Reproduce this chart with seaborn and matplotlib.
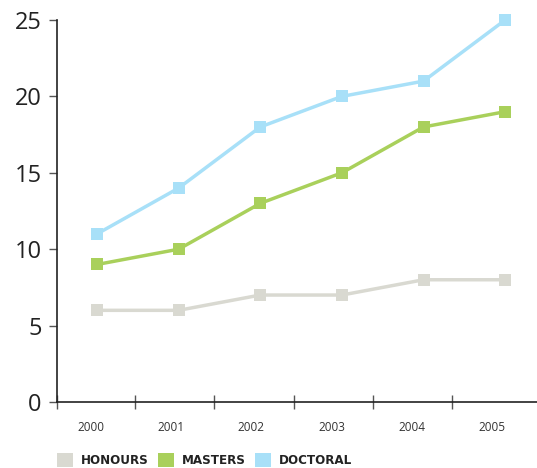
import matplotlib
matplotlib.use("Agg")
import matplotlib.pyplot as plt
from matplotlib.patches import Patch
from matplotlib.ticker import FixedLocator, NullFormatter
import seaborn as sns
import pandas as pd

years = ["2000", "2001", "2002", "2003", "2004", "2005"]
honours = [6, 6, 7, 7, 8, 8]
masters = [9, 10, 13, 15, 18, 19]
doctoral = [11, 14, 18, 20, 21, 25]
series_names = ["HONOURS", "MASTERS", "DOCTORAL"]
colors = ["#d9d9d1", "#a9d05b", "#a8e0f8"]

rows = []
for name, vals in zip(series_names, [honours, masters, doctoral]):
    for i, v in enumerate(vals):
        rows.append({"pos": i, "value": v, "series": name})
df = pd.DataFrame(rows)

sns.set_style("white")
plt.rcParams["font.family"] = ["Open Sans", "DejaVu Sans"]

fig = plt.figure(figsize=(5.37, 4.68), dpi=100)
ax = fig.add_axes([57 / 537, 66 / 468, 1 - 57 / 537, (402 - 20) / 468])

sns.lineplot(data=df, x="pos", y="value", hue="series", hue_order=series_names,
             palette=colors, marker="s", markersize=9, markeredgewidth=0,
             linewidth=2.5, dashes=False, legend=False, ax=ax)
for line in ax.lines:
    line.set_clip_on(False)

ax.set_xlim(-0.49, 5.39)
ax.set_ylim(0, 25)
ax.set_xlabel("")
ax.set_ylabel("")

for side in ["top", "right"]:
    ax.spines[side].set_visible(False)
for side in ["left", "bottom"]:
    ax.spines[side].set_color("#222222")
    ax.spines[side].set_linewidth(1.2)

ax.set_yticks([0, 5, 10, 15, 20, 25])
ax.tick_params(axis="y", which="major", direction="out", length=6, width=1,
               color="#555555", labelsize=17, labelcolor="#222222", pad=5, left=True)

# year labels sit centred in their bands, boundary ticks between them
ax.set_xticks([i * 0.984 - 0.08 for i in range(len(years))])
ax.set_xticklabels(years)
ax.tick_params(axis="x", which="major", length=0, labelsize=8.5, labelcolor="#333333", pad=14)
ax.xaxis.set_minor_locator(FixedLocator([-0.49, 0.466, 1.434, 2.414, 3.382, 4.35]))
ax.xaxis.set_minor_formatter(NullFormatter())
ax.tick_params(axis="x", which="minor", direction="inout", length=10, width=1,
               color="#555555", bottom=True)

handles = [Patch(facecolor=c, edgecolor="none") for c in colors]
leg = fig.legend(handles, series_names, loc="center left",
                 bbox_to_anchor=(57 / 537, 1 - 460 / 468),
                 ncol=3, frameon=False, borderpad=0, borderaxespad=0,
                 handlelength=1.22, handleheight=1.22,
                 handletextpad=0.6, columnspacing=0.7,
                 prop={"family": "DejaVu Sans", "weight": "bold",
                       "stretch": "condensed", "size": 9.5})
for t in leg.get_texts():
    t.set_color("#222222")

fig.savefig("out.png", dpi=100)
